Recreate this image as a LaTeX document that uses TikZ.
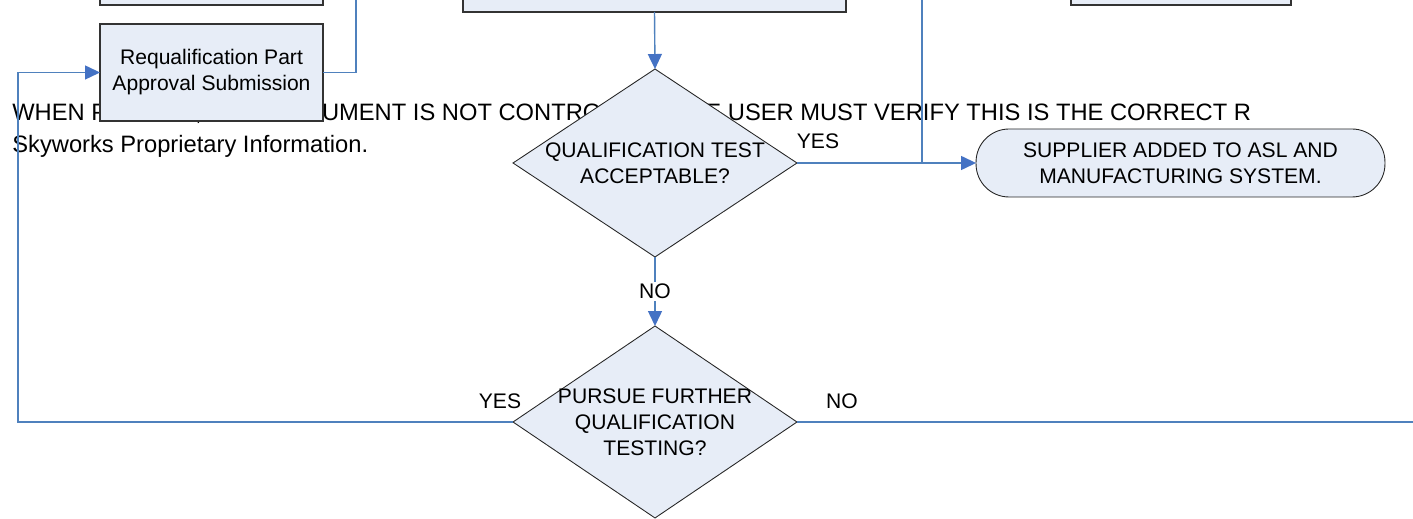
\documentclass[tikz,border=0pt]{standalone}
\usepackage{fontspec}
\setmainfont{Liberation Sans}
\usetikzlibrary{shapes.geometric,arrows.meta}

\definecolor{flowblue}{RGB}{79,129,189}
\definecolor{tipblue}{RGB}{68,114,196}
\definecolor{boxfill}{RGB}{231,237,247}

\begin{document}
\begin{tikzpicture}[x=0.02cm,y=-0.02cm,
        font=\fontsize{12}{14.8}\selectfont,
        procbox/.style={draw=black!80,line width=0.7pt,fill=boxfill,align=center,
            inner sep=0pt,outer sep=0pt,minimum height=1.94cm},
        decision/.style={diamond,draw=black!85,line width=0.5pt,fill=boxfill,
            inner sep=0pt,outer sep=0pt,minimum width=5.68cm},
        terminal/.style={draw=black!85,line width=0.5pt,fill=boxfill,align=center,
            rounded corners=0.66cm,inner sep=0pt,outer sep=0pt,
            minimum width=8.18cm,minimum height=1.36cm},
        qtext/.style={align=center},
        flow/.style={draw=flowblue,line width=0.8pt},
        flowarrow/.style={flow,-{Triangle[length=0.3cm,width=0.28cm,color=tipblue]}},
        lbl/.style={inner sep=1pt},
        footer/.style={anchor=base west,inner sep=0pt,font=\fontsize{13.5}{16}\selectfont}]
        \clip (0,0) rectangle (1413,519);
        % footer text (lies under the shapes)
        \node[footer] (warn) at (12,121) {WHEN PRINTED, THIS DOCUMENT IS NOT CONTROLLED. THE USER MUST VERIFY THIS IS THE CORRECT R};
        \node[footer] (prop) at (12,153) {Skyworks Proprietary Information.};
        % boxes
        \node[procbox,minimum width=4.46cm] (topl) at (211.5,-43.5) {};
        \node[procbox,minimum width=7.66cm] (topc) at (654.5,-36.5) {};
        \node[procbox,minimum width=4.4cm] (topr) at (1181,-43.5) {};
        \node[procbox,minimum width=4.46cm] (requal) at (211.5,72.5) {Requalification Part\\Approval Submission};
        \node[decision,minimum height=3.76cm,
            label={[qtext]center:{QUALIFICATION TEST\\ACCEPTABLE?}}] (qtest) at (655,163) {};
        \node[terminal] (supplier) at (1180.5,163) {SUPPLIER ADDED TO ASL AND\\MANUFACTURING SYSTEM.};
        \node[decision,minimum height=3.84cm,
            label={[qtext]center:{PURSUE FURTHER\\QUALIFICATION\\TESTING?}}] (pursue) at (655,422) {};
        % loose ends
        \coordinate (reqout) at (356,-5);
        \coordinate (suppin) at (922,-5);
        \coordinate (loopc) at (18,422);
        \coordinate (noout) at (1420,422);
        % connectors
        \draw[flow] (requal.east) -| (reqout);
        \draw[flowarrow] (topc.south) -- (qtest.north);
        \draw[flowarrow] (qtest.east) -- (supplier.west);
        \draw[flow] (suppin) -- (suppin |- qtest.east);
        \draw[flowarrow] (qtest.south) -- node[lbl,fill=white] (no1) {NO} (pursue.north);
        \draw[flowarrow] (pursue.west) -- (loopc) |- (requal.west);
        \draw[flow] (pursue.east) -- (noout);
        % labels
        \node[lbl] (yes1) at (818,141) {YES};
        \node[lbl] (yes2) at (500,401) {YES};
        \node[lbl] (no2) at (842,401) {NO};
    \end{tikzpicture}
\end{document}
